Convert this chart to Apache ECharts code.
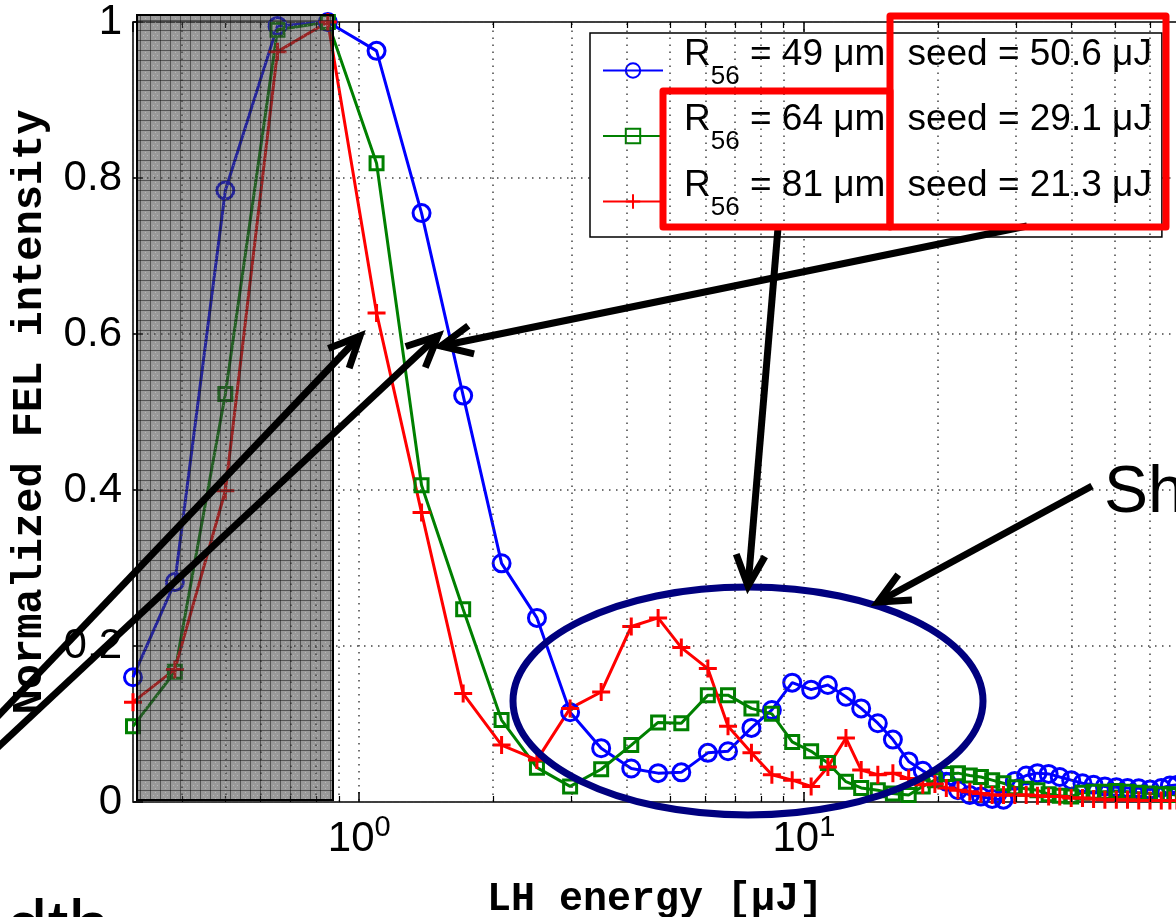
<!DOCTYPE html>
<html>
<head>
<meta charset="utf-8">
<script src="https://cdn.jsdelivr.net/npm/echarts@6/dist/echarts.min.js"></script>
<style>
html,body{margin:0;padding:0;background:#fff}
#fel{width:1176px;height:917px}
</style>
</head>
<body>
<div id="fel"></div>
<script>
// LH energy [uJ], shared by the three scans
var energy = [0.31, 0.385, 0.5, 0.655, 0.85, 1.094, 1.381, 1.713, 2.09, 2.51,
	2.98, 3.5, 4.09, 4.7, 5.3, 6.08, 6.75, 7.62, 8.47, 9.41,
	10.38, 11.32, 12.43, 13.45, 14.66, 15.85, 17.2, 18.5, 19.7, 20.9,
	22.2, 23.6, 25.0, 26.5, 28.1, 29.8, 31.6, 33.5, 35.5, 37.6,
	39.9, 42.3, 44.8, 47.5, 50.4, 53.4, 56.6, 60.0, 63.6, 66.5, 69.0];
// normalized FEL intensity
var r49 = [0.16, 0.282, 0.784, 0.995, 1.0, 0.963, 0.755, 0.521, 0.306, 0.236,
	0.115, 0.069, 0.043, 0.037, 0.038, 0.063, 0.065, 0.095, 0.118, 0.153,
	0.144, 0.15, 0.135, 0.12, 0.101, 0.08, 0.052, 0.04, 0.032, 0.026,
	0.015, 0.009, 0.007, 0.004, 0.003, 0.027, 0.034, 0.037, 0.036, 0.032,
	0.028, 0.024, 0.022, 0.02, 0.019, 0.018, 0.0175, 0.016, 0.018, 0.021, 0.022];
var r64 = [0.097, 0.167, 0.523, 0.99, 1.0, 0.819, 0.406, 0.247, 0.105, 0.044,
	0.02, 0.042, 0.073, 0.102, 0.101, 0.137, 0.137, 0.12, 0.113, 0.077,
	0.065, 0.05, 0.026, 0.018, 0.015, 0.011, 0.009, 0.02, 0.028, 0.036,
	0.037, 0.034, 0.032, 0.028, 0.024, 0.019, 0.017, 0.015, 0.01, 0.008,
	0.007, 0.012, 0.013, 0.013, 0.014, 0.013, 0.012, 0.011, 0.01, 0.01, 0.009];
var r81 = [0.128, 0.17, 0.399, 0.962, 1.0, 0.627, 0.371, 0.139, 0.073, 0.054,
	0.12, 0.141, 0.225, 0.236, 0.198, 0.171, 0.097, 0.063, 0.035, 0.028,
	0.02, 0.045, 0.082, 0.041, 0.035, 0.037, 0.03, 0.022, 0.023, 0.018,
	0.015, 0.013, 0.011, 0.009, 0.009, 0.009, 0.009, 0.008, 0.007, 0.007,
	0.005, 0.005, 0.004, 0.003, 0.003, 0.003, 0.002, 0.002, 0.002, 0.002, 0.002];

var r56List = [49, 64, 81];          // um
var seedList = ['50.6', '29.1', '21.3']; // uJ
var seriesNames = ['R56 = 49', 'R56 = 64', 'R56 = 81'];
var xMin = 0.31, xMax = 69;
var yTicks = [0, 0.2, 0.4, 0.6, 0.8, 1];
var xMinor = [0.4, 0.5, 0.6, 0.7, 0.8, 0.9, 2, 3, 4, 5, 6, 7, 8, 9, 20, 30, 40, 50, 60];

function pairs(vals){
	var out = [];
	for(var i=0;i<energy.length;i++){
		out.push([energy[i], vals[i]]);
	}
	return out;
}

// grey patch texture
function hatch(){
	var c = document.createElement('canvas');
	c.width = 10; c.height = 10;
	var g = c.getContext('2d');
	g.fillStyle = 'rgba(70,70,70,0.55)';
	g.fillRect(0,0,10,10);
	g.fillStyle = 'rgba(15,15,15,0.5)';
	g.fillRect(0,0,10,1);
	g.fillRect(0,0,1,10);
	g.fillStyle = 'rgba(255,255,255,0.3)';
	g.fillRect(3,5,1,1);
	g.fillRect(7,5,1,1);
	g.fillRect(5,2,1,1);
	g.fillRect(5,8,1,1);
	return c;
}

// black annotation arrow (open head)
function arrow(x1,y1,x2,y2){
	var a = Math.atan2(y1-y2, x1-x2), L = 34, w = 25*Math.PI/180;
	return [{
		type:'line', z:120,
		shape:{x1:x1,y1:y1,x2:x2,y2:y2},
		style:{stroke:'#000', lineWidth:7}
	},{
		type:'polyline', z:120,
		shape:{points:[[x2+L*Math.cos(a+w), y2+L*Math.sin(a+w)], [x2,y2], [x2+L*Math.cos(a-w), y2+L*Math.sin(a-w)]]},
		style:{stroke:'#000', lineWidth:7, fill:'none', lineJoin:'miter'}
	}];
}

var dotted = {color:'#444', width:1.5, type:[1.5,5.5]};

var minorLines = [];
xMinor.forEach(function(v){
	minorLines.push({xAxis:v, lineStyle:dotted});
	minorLines.push([{coord:[v,0], lineStyle:{color:'#000', width:1.2, type:'solid'}}, {coord:[v,0.0077]}]);
	minorLines.push([{coord:[v,1], lineStyle:{color:'#000', width:1.2, type:'solid'}}, {coord:[v,0.9923]}]);
});

var legendRich = {
	r:{fontFamily:'Liberation Sans', fontSize:37, lineHeight:28, padding:[0,0,32,16], color:'#000'},
	s:{fontFamily:'Liberation Sans', fontSize:26, lineHeight:24, padding:[24,0,12,0], color:'#000'},
	m:{fontFamily:'Liberation Sans', fontSize:37, lineHeight:28, padding:[0,0,32,0], color:'#000'},
	g:{fontFamily:'Liberation Sans', fontSize:37, lineHeight:28, padding:[0,0,32,0], width:22}
};

var graphics = [];
// shaded region
graphics.push({
	type:'rect', z:110,
	shape:{x:137, y:15, width:196, height:785},
	style:{fill:{type:'pattern', image:hatch(), repeat:'repeat'}, stroke:'#000', lineWidth:2}
});
// red frames over the legend
graphics.push({
	type:'rect', z:130,
	shape:{x:890, y:16, width:276, height:211},
	style:{fill:'none', stroke:'#ff0000', lineWidth:7, lineJoin:'round'}
});
graphics.push({
	type:'rect', z:130,
	shape:{x:663, y:91, width:227, height:136},
	style:{fill:'none', stroke:'#ff0000', lineWidth:7, lineJoin:'round'}
});
// ellipse round the secondary bumps
graphics.push({
	type:'ellipse', z:115,
	shape:{cx:748, cy:701, rx:235, ry:114},
	style:{fill:'none', stroke:'#00007f', lineWidth:7}
});
graphics = graphics
	.concat(arrow(-20,735,360,336))
	.concat(arrow(-20,764,438,336))
	.concat(arrow(1027,226,441,346))
	.concat(arrow(778,228,748,586))
	.concat(arrow(1092,486,878,602));
graphics.push({
	type:'text', z:120, x:1104, y:494,
	style:{text:'Sh', font:'66px "Liberation Sans"', fill:'#000', align:'left', verticalAlign:'middle'}
});
graphics.push({
	type:'text', z:120, x:110, y:931,
	style:{text:'dth', font:'75px "Liberation Sans"', fill:'#000', align:'right', verticalAlign:'middle'}
});

var option = {
	animation:false,
	backgroundColor:'#fff',
	grid:{left:133, top:22, right:-1, bottom:115, show:true, borderColor:'#000', borderWidth:1.5,
		containLabel:false, outerBoundsMode:'none'},
	legend:{
		orient:'vertical', left:590, top:33,
		itemWidth:60, itemHeight:18, itemGap:-3.5,
		padding:[3,10,1,12],
		backgroundColor:'#fff', borderColor:'#000', borderWidth:1.5,
		data:seriesNames,
		formatter:function(name){
			var i = seriesNames.indexOf(name);
			return '{r|R}{s|56}{m| = ' + r56List[i] + ' \u03bcm}{g| }{m|seed = ' + seedList[i] + ' \u03bcJ}';
		},
		textStyle:{fontSize:37, fontFamily:'Liberation Sans', rich:legendRich}
	},
	xAxis:[{
		type:'log', logBase:10, min:xMin, max:xMax, position:'bottom',
		axisLine:{show:false},
		axisTick:{inside:true, length:10, lineStyle:{color:'#000', width:1.5}},
		axisLabel:{
			margin:14, showMinLabel:false, showMaxLabel:false,
			fontSize:42, fontFamily:'Liberation Sans', color:'#000',
			formatter:function(v){
				return '{b|10}{s|' + Math.round(Math.log10(v)) + '}';
			},
			rich:{
				b:{fontFamily:'Liberation Sans', fontSize:42, lineHeight:46, color:'#000'},
				s:{fontFamily:'Liberation Sans', fontSize:29, lineHeight:24, padding:[0,0,22,0], color:'#000'}
			}
		},
		splitLine:{show:true, lineStyle:dotted},
		name:'LH energy [\u03bcJ]', nameLocation:'middle', nameGap:78,
		nameTextStyle:{fontFamily:'Liberation Mono', fontWeight:'bold', fontSize:40, color:'#000'}
	},{
		type:'log', logBase:10, min:xMin, max:xMax, position:'top',
		axisLine:{show:false},
		axisTick:{inside:true, length:10, lineStyle:{color:'#000', width:1.5}},
		axisLabel:{show:false},
		splitLine:{show:false}
	}],
	yAxis:{
		type:'value', min:yTicks[0], max:yTicks[yTicks.length-1], interval:0.2,
		axisLine:{show:false},
		axisTick:{inside:true, length:10, lineStyle:{color:'#000', width:1.5}},
		axisLabel:{margin:11, fontSize:42, fontFamily:'Liberation Sans', color:'#000'},
		splitLine:{show:true, lineStyle:dotted},
		name:'Normalized FEL intensity', nameLocation:'middle', nameGap:82,
		nameTextStyle:{fontFamily:'Liberation Mono', fontWeight:'bold', fontSize:42, color:'#000'}
	},
	series:[{
		name:seriesNames[0], type:'line', data:pairs(r49),
		symbol:'circle', symbolSize:17,
		lineStyle:{color:'#0000ff', width:3},
		itemStyle:{color:'rgba(0,0,0,0)', borderColor:'#0000ff', borderWidth:3},
		markLine:{silent:true, symbol:'none', label:{show:false}, data:minorLines}
	},{
		name:seriesNames[1], type:'line', data:pairs(r64),
		symbol:'rect', symbolSize:13,
		lineStyle:{color:'#008000', width:3},
		itemStyle:{color:'rgba(0,0,0,0)', borderColor:'#008000', borderWidth:3}
	},{
		name:seriesNames[2], type:'line', data:pairs(r81),
		symbol:'path://M5,0L5,10M0,5L10,5', symbolSize:18,
		lineStyle:{color:'#ff0000', width:3},
		itemStyle:{color:'rgba(0,0,0,0)', borderColor:'#ff0000', borderWidth:3}
	}],
	graphic:graphics
};

var chart = echarts.init(document.getElementById('fel'));
chart.setOption(option);
</script>
</body>
</html>
